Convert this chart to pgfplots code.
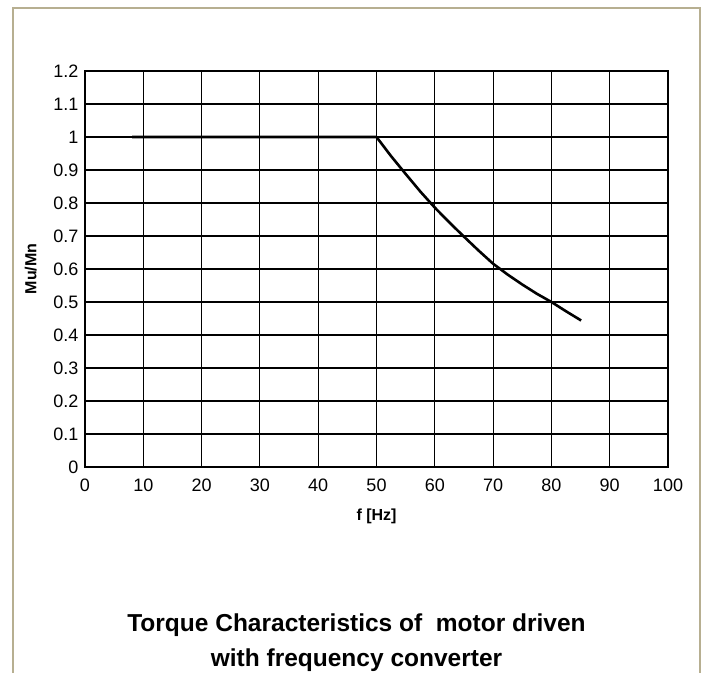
\documentclass[border=0pt]{standalone}
\usepackage{fontspec}
\setmainfont{Liberation Sans}
\usepackage{pgfplots}
\pgfplotsset{compat=1.18}
\definecolor{framecol}{RGB}{183,175,145}

\begin{document}
\begin{tikzpicture}[x=1pt,y=1pt]
  \useasboundingbox (0,0) rectangle (708,672);
  \draw[framecol, line width=2pt] (13,-20) rectangle (700,664);

  \begin{axis}[
      at={(85pt,205pt)}, anchor=south west,
      scale only axis,
      width=583pt, height=396pt,
      xmin=0, xmax=100, ymin=0, ymax=1.2,
      xtick={0,10,...,100},
      ytick={0,0.1,...,1.2},
      yticklabels={0,0.1,0.2,0.3,0.4,0.5,0.6,0.7,0.8,0.9,1,1.1,1.2},
      major tick length=0pt,
      grid=major,
      major grid style={black, line width=1.1pt},
      axis line style={black, line width=1.2pt},
      tick label style={font=\fontsize{18}{20}\selectfont},
      /pgf/number format/assume math mode=true,
      xticklabel style={yshift=-8pt},
      yticklabel style={xshift=-3pt},
      label style={font=\bfseries\fontsize{16}{18}\selectfont},
      xlabel={f [Hz]},
      ylabel={Mu/Mn},
      xlabel style={yshift=-11pt},
      ylabel style={yshift=10pt},
    ]
    \addplot[black, line width=2.6pt, mark=none, line join=round] coordinates {
      (8.1,1.0) (50,1.0)
      (52.5,0.942) (55,0.888) (57.5,0.835) (60,0.786)
      (62.5,0.741) (65,0.698) (67.5,0.656) (70,0.616)
      (72.5,0.583) (75,0.553) (77.5,0.525) (80,0.5)
      (82.5,0.472) (85.1,0.444)
    };
  \end{axis}

  \node[font=\bfseries\fontsize{24.5}{35}\selectfont, anchor=base]
    at (356.5,41) {Torque Characteristics of\ \ motor driven};
  \node[font=\bfseries\fontsize{24.5}{35}\selectfont, anchor=base]
    at (356.5,6) {with frequency converter};
\end{tikzpicture}
\end{document}
